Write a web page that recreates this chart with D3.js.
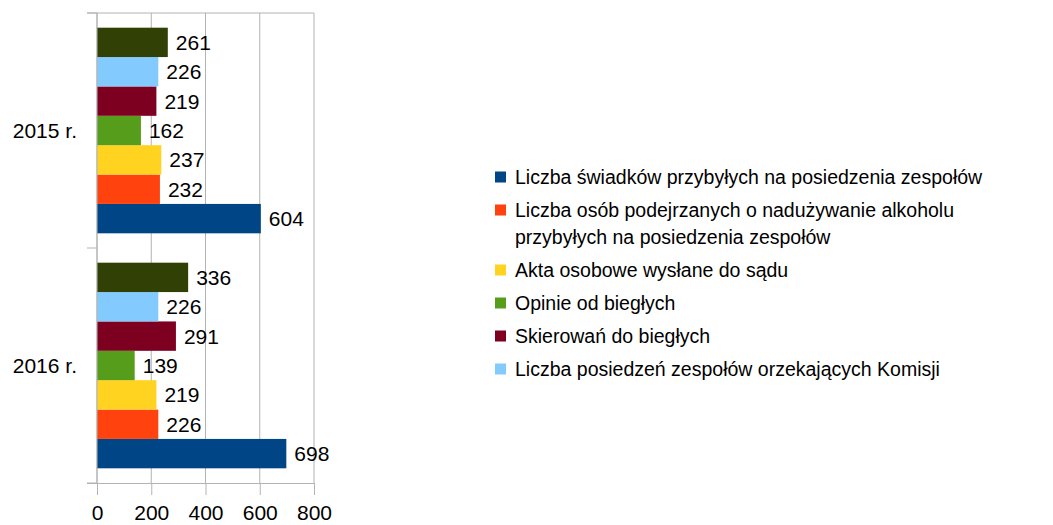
<!DOCTYPE html>
<html>
<head>
<meta charset="utf-8">
<script src="https://cdn.jsdelivr.net/npm/d3@7"></script>
<style>
  body { margin: 0; background: #fff; }
  text { font-family: "Liberation Sans", Arial, sans-serif; fill: #000; }
</style>
</head>
<body>
<div class="chart"></div>
<script>
const categories = ["2015 r.", "2016 r."];
const seriesNames = [
  "Liczba świadków przybyłych na posiedzenia zespołów",
  "Liczba osób podejrzanych o nadużywanie alkoholu\nprzybyłych na posiedzenia zespołów",
  "Akta osobowe wysłane do sądu",
  "Opinie od biegłych",
  "Skierowań do biegłych",
  "Liczba posiedzeń zespołów orzekających Komisji",
  ""
];
const values2015 = [604, 232, 237, 162, 219, 226, 261];
const values2016 = [698, 226, 219, 139, 291, 226, 336];
const colors = ["#004586", "#ff420e", "#ffd320", "#579d1c", "#7e0021", "#83caff", "#314004"];
const xTicks = [0, 200, 400, 600, 800];

const data = categories.map((c, i) => ({
  cat: c,
  vals: [values2015, values2016][i].map((v, s) => ({ s, v }))
}));

const width = 1053, height = 525;
const margin = { top: 13, left: 97, right: 739, bottom: 42 };

const svg = d3.select(".chart").append("svg")
  .attr("width", width)
  .attr("height", height);

const x = d3.scaleLinear()
  .domain([0, 800])
  .range([margin.left, width - margin.right]);

const y = d3.scaleBand()
  .domain(categories)
  .range([margin.top, height - margin.bottom]);

// series 0 sits at the bottom of each group
const ySub = d3.scaleBand()
  .domain(d3.range(seriesNames.length).reverse())
  .range([0, y.bandwidth()])
  .paddingOuter(0.5);

const grid = "#b3b3b3";

// vertical grid lines
svg.append("g")
  .selectAll("line")
  .data(xTicks)
  .join("line")
  .attr("x1", d => x(d)).attr("x2", d => x(d))
  .attr("y1", margin.top).attr("y2", height - margin.bottom)
  .attr("stroke", grid);

// top border
svg.append("line")
  .attr("x1", x(0) - 10).attr("x2", x(800))
  .attr("y1", margin.top).attr("y2", margin.top)
  .attr("stroke", grid);

// bars
const groups = svg.append("g")
  .selectAll("g")
  .data(data)
  .join("g")
  .attr("transform", d => `translate(0,${y(d.cat)})`);

groups.selectAll("rect")
  .data(d => d.vals)
  .join("rect")
  .attr("x", x(0))
  .attr("y", d => ySub(d.s))
  .attr("width", d => x(d.v) - x(0))
  .attr("height", ySub.bandwidth())
  .attr("fill", d => colors[d.s]);

groups.selectAll("text")
  .data(d => d.vals)
  .join("text")
  .attr("x", d => x(d.v) + 8)
  .attr("y", d => ySub(d.s) + ySub.bandwidth() / 2)
  .attr("dy", "0.36em")
  .attr("font-size", 21)
  .text(d => d.v);

// left axis: boundary ticks and labels
const yEdges = categories.map(c => y(c)).concat([y.range()[1]]);
svg.append("g")
  .selectAll("line")
  .data(yEdges)
  .join("line")
  .attr("x1", x(0) - 10).attr("x2", x(0))
  .attr("y1", d => d).attr("y2", d => d)
  .attr("stroke", grid);

svg.append("line")
  .attr("x1", x(0)).attr("x2", x(0))
  .attr("y1", margin.top).attr("y2", height - margin.bottom)
  .attr("stroke", grid);

svg.append("g")
  .selectAll("text")
  .data(categories)
  .join("text")
  .attr("x", x(0) - 20)
  .attr("y", d => y(d) + y.bandwidth() / 2)
  .attr("dy", "0.36em")
  .attr("text-anchor", "end")
  .attr("font-size", 21)
  .text(d => d);

// bottom axis
const xAxis = svg.append("g")
  .attr("transform", `translate(0,${height - margin.bottom})`)
  .call(d3.axisBottom(x).tickValues(xTicks).tickSize(12).tickPadding(10).tickSizeOuter(0));
xAxis.select(".domain").attr("stroke", grid).attr("d", `M${x(0) - 10},0.5H${x(800)}`);
xAxis.selectAll(".tick line").attr("stroke", grid);
xAxis.selectAll(".tick text")
  .attr("font-size", 21)
  .attr("font-family", "Liberation Sans, Arial, sans-serif")
  .attr("fill", "#000");

// legend (first six series)
const legendItems = seriesNames.slice(0, 6).map((name, i) => ({ name, color: colors[i], lines: name.split("\n") }));
let ly = 177;
legendItems.forEach(d => { d.y = ly; ly += 33 + (d.lines.length - 1) * 27; });

const legend = svg.append("g")
  .selectAll("g")
  .data(legendItems)
  .join("g")
  .attr("transform", d => `translate(495,${d.y})`);

legend.append("rect")
  .attr("x", 0).attr("y", -5.5)
  .attr("width", 11).attr("height", 11)
  .attr("fill", d => d.color);

legend.append("text")
  .attr("font-size", 19.5)
  .selectAll("tspan")
  .data(d => d.lines)
  .join("tspan")
  .attr("x", 20)
  .attr("y", (d, i) => i * 27)
  .attr("dy", "0.36em")
  .text(d => d);
</script>
</body>
</html>
